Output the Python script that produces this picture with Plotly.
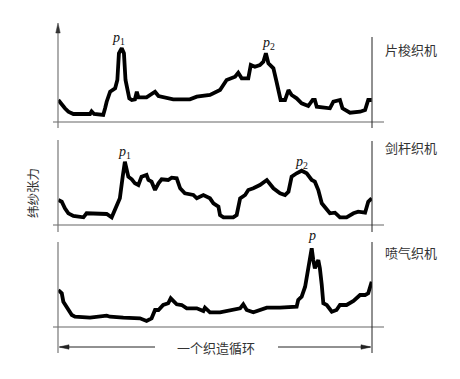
import plotly.graph_objects as go

W, H = 460, 379

# ---- data (x: % of weaving cycle, y: weft tension, arbitrary units) ----
proj_x = [0.1, 1.2, 2.2, 3.3, 4.9, 10.2, 10.7, 11.5, 14.4, 15.0, 15.5, 16.6, 18.2, 18.9, 19.4, 20.3,
          21.0, 21.5, 22.1, 22.7, 23.5, 24.5, 25.1, 25.6, 28.2, 30.9, 32.0, 34.6, 36.7, 42.0, 44.2,
          48.4, 51.6, 53.7, 56.4, 57.4, 58.5, 60.6, 61.4, 62.7, 64.3, 65.4, 66.2, 67.0, 68.6, 69.6,
          70.9, 72.3, 73.4, 74.4, 76.0, 77.6, 79.7, 81.1, 81.8, 82.4, 86.6, 87.7, 89.8, 90.6, 93.0,
          96.2, 97.8, 98.8, 99.9]
proj_y = [22, 17, 13.7, 10.3, 8, 8, 10.7, 8, 7, 13.7, 20.3, 30.3, 33.7, 42, 68.7, 73.7,
          68.7, 42, 32, 23.7, 22, 22.7, 30.3, 24.7, 24.7, 30.3, 26, 24.7, 22.7, 22.7, 25.3,
          27, 32, 42, 45.3, 49.3, 43.7, 43.7, 57, 55.3, 57, 60.3, 68.7, 58.7, 53.7, 40.3,
          22, 22, 32, 27, 23.7, 18.7, 16, 22, 22, 15.3, 13.7, 20.3, 22, 13.7, 9.3,
          10.3, 12, 22, 22]

rapier_x = [0.1, 1.2, 2.2, 3.3, 4.9, 8.1, 9.1, 15.5, 17.1, 17.6, 18.7, 19.7, 20.6, 21.3, 21.9, 22.4,
            23.5, 24.5, 25.6, 26.6, 28.2, 28.8, 29.8, 30.9, 32.0, 33.0, 35.1, 36.2, 37.8, 38.9,
            40.4, 43.1, 44.2, 46.3, 48.4, 49.5, 51.1, 51.6, 52.7, 55.8, 56.9, 58.0, 59.6, 60.6,
            62.2, 64.3, 66.5, 67.5, 68.6, 70.7, 72.3, 73.4, 74.4, 76.0, 77.6, 79.2, 80.8, 81.8,
            82.9, 84.0, 85.6, 86.6, 88.2, 89.8, 91.9, 94.1, 95.6, 97.8, 98.8, 99.9]
rapier_y = [25, 23.3, 16.7, 11.7, 9, 7.7, 11.7, 11, 7.7, 11.7, 20, 26.7, 48.3, 63.3, 55, 48.3,
            45.7, 41.7, 40, 48.3, 50, 45, 43.3, 35, 41.7, 45.7, 45, 47.3, 46.7, 36.7,
            31.7, 30, 26.7, 30, 26.7, 21.7, 18.3, 10, 7.7, 7.7, 10, 26.7, 30, 35,
            36.7, 40, 45, 41.7, 36.7, 31.7, 30, 33.3, 48.3, 51.7, 54.3, 51.7, 45, 43.3,
            35, 21.7, 15, 11.7, 12.3, 7.7, 7.7, 11.7, 13.3, 12.3, 23.3, 26.7]

airjet_x = [0.1, 1.2, 1.7, 2.8, 3.3, 4.4, 5.4, 10.2, 15.5, 16.6, 20.8, 26.1, 28.2, 29.8, 30.9, 32.0,
            33.5, 35.1, 35.9, 36.7, 37.8, 39.4, 41.0, 44.2, 46.3, 46.8, 48.4, 51.6, 55.8, 58.0,
            59.0, 60.1, 62.2, 64.9, 66.5, 70.7, 76.0, 76.5, 77.6, 78.7, 79.2, 80.0, 80.8, 81.3,
            81.8, 82.9, 83.4, 84.0, 84.5, 85.6, 87.2, 88.7, 89.8, 91.9, 94.1, 96.2, 97.8, 98.8, 99.9]
airjet_y = [37, 33.7, 25.3, 20.3, 17, 12, 10.3, 9.3, 11.3, 10.3, 9.3, 8.7, 6, 8.7, 17, 17,
            22, 23.7, 28.7, 26, 22.7, 22, 18.7, 18.7, 16, 19.3, 14.7, 14.7, 17, 18.7,
            22.7, 17, 14.7, 17, 19.3, 19.3, 20.3, 27, 30.3, 40.3, 48.7, 65.3, 78.7, 67,
            58.7, 67, 58.7, 42, 23.7, 22, 15.3, 17, 22, 22, 26, 32, 32, 33.7, 45.3]

machine_names = ["片梭织机", "剑杆织机", "喷气织机"]
peak_labels = [
    [("<i>p</i><sub>1</sub>", 19.4, 84), ("<i>p</i><sub>2</sub>", 66.9, 79)],
    [("<i>p</i><sub>1</sub>", 21.3, 73), ("<i>p</i><sub>2</sub>", 77.7, 63)],
    [("<i>p</i>", 80.9, 92)],
]
y_label = "纬纱张力"
cycle_label = "一个织造循环"

series = [(proj_x, proj_y), (rapier_x, rapier_y), (airjet_x, airjet_y)]

# ---- layout geometry (pixels) ----
X0, X1 = 58, 372
panels = [  # (baseline py, top py)
    (122, 24),
    (225, 135),
    (327, 230),
]

def px(x):
    return x / W

def py(y):
    return 1 - y / H

fig = go.Figure()
layout = dict(
    width=W, height=H, margin=dict(l=0, r=0, t=0, b=0),
    paper_bgcolor="white", plot_bgcolor="white", showlegend=False,
)
shapes = []
annotations = []
CJK = "Noto Sans CJK SC"
SERIF = "Liberation Serif"

for i, ((xs, ys), (base, top)) in enumerate(zip(series, panels)):
    n = "" if i == 0 else str(i + 1)
    fig.add_trace(go.Scatter(
        x=xs, y=ys, mode="lines", xaxis="x" + n, yaxis="y" + n,
        line=dict(color="black", width=3.8), hoverinfo="skip", cliponaxis=False,
    ))
    layout["xaxis" + n] = dict(domain=[px(X0), px(X1)], range=[0, 100], visible=False,
                               anchor="y" + n)
    layout["yaxis" + n] = dict(domain=[py(base), py(top)], range=[0, base - top], visible=False,
                               anchor="x" + n)
    # baseline
    shapes.append(dict(type="line", xref="paper", yref="paper", x0=px(53), x1=px(384),
                       y0=py(base), y1=py(base), line=dict(color="#666", width=1.2)))
    # right vertical
    rtop = {0: 37, 1: 141, 2: 242}[i]
    rbot = {0: 128, 1: 232, 2: 353}[i]
    shapes.append(dict(type="line", xref="paper", yref="paper", x0=px(X1), x1=px(X1),
                       y0=py(rbot), y1=py(rtop), line=dict(color="#222", width=1)))
    # left vertical
    ltop = {0: 30, 1: 140, 2: 242}[i]
    shapes.append(dict(type="line", xref="paper", yref="paper", x0=px(X0), x1=px(X0),
                       y0=py(rbot), y1=py(ltop), line=dict(color="#777", width=1.2)))
    # machine name
    name_y = {0: 50, 1: 148, 2: 252}[i]
    annotations.append(dict(text=machine_names[i], xref="paper", yref="paper",
                            x=px(383), y=py(name_y), xanchor="left", yanchor="middle",
                            showarrow=False, font=dict(family=CJK, size=13, color="#333")))
    for (t, lx, ly) in peak_labels[i]:
        annotations.append(dict(text=t, xref="x" + n, yref="y" + n, x=lx, y=ly,
                                xanchor="center", yanchor="middle", showarrow=False,
                                font=dict(family=SERIF, size=14, color="#111")))

# arrow head on top of the left axis
shapes.append(dict(type="path", xref="paper", yref="paper",
                   path=f"M {px(55.8)} {py(33)} L {px(58)} {py(23)} L {px(60.2)} {py(33)} Z",
                   fillcolor="#333", line=dict(color="#333", width=0.5)))

# cycle arrows (lines + arrow heads)
AY = 347
shapes.append(dict(type="line", xref="paper", yref="paper", x0=px(X0 + 2), x1=px(155),
                   y0=py(AY), y1=py(AY), line=dict(color="#222", width=1)))
shapes.append(dict(type="line", xref="paper", yref="paper", x0=px(278), x1=px(X1 - 2),
                   y0=py(AY), y1=py(AY), line=dict(color="#222", width=1)))
shapes.append(dict(type="path", xref="paper", yref="paper",
                   path=f"M {px(X0 + 1)} {py(AY)} L {px(X0 + 11)} {py(AY - 2.2)} "
                        f"L {px(X0 + 11)} {py(AY + 2.2)} Z",
                   fillcolor="#222", line=dict(color="#222", width=0.5)))
shapes.append(dict(type="path", xref="paper", yref="paper",
                   path=f"M {px(X1 - 1)} {py(AY)} L {px(X1 - 11)} {py(AY - 2.2)} "
                        f"L {px(X1 - 11)} {py(AY + 2.2)} Z",
                   fillcolor="#222", line=dict(color="#222", width=0.5)))
annotations.append(dict(text=cycle_label, xref="paper", yref="paper", x=px(216), y=py(AY),
                        xanchor="center", yanchor="middle", showarrow=False,
                        font=dict(family=CJK, size=13, color="#333")))
annotations.append(dict(text=y_label, xref="paper", yref="paper", x=px(32), y=py(193),
                        xanchor="center", yanchor="middle", showarrow=False, textangle=-90,
                        font=dict(family=CJK, size=12.5, color="#333")))

layout["shapes"] = shapes
layout["annotations"] = annotations
fig.update_layout(**layout)
fig.write_html("out.html")
